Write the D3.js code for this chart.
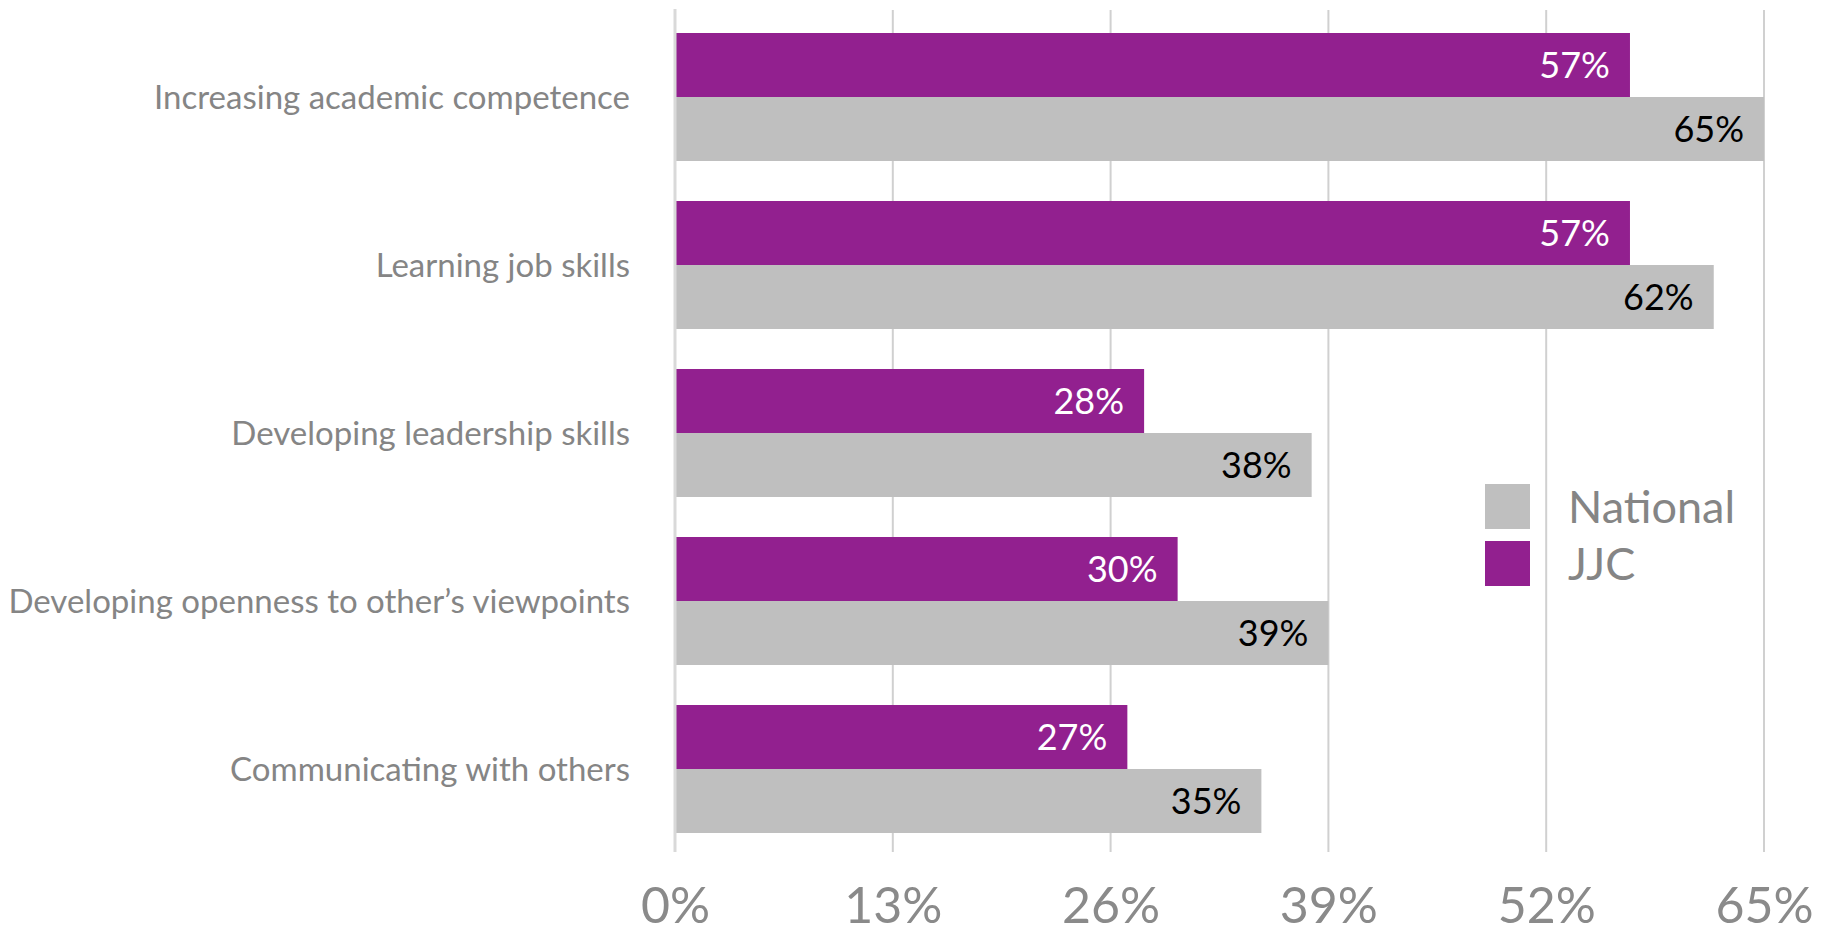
<!DOCTYPE html>
<html>
<head>
<meta charset="utf-8">
<script src="https://cdn.jsdelivr.net/npm/d3@7"></script>
<style>
  html, body { margin: 0; padding: 0; background: #ffffff; }
  svg { display: block; }
  text { font-family: Lato, "Open Sans", sans-serif; }
</style>
</head>
<body>
<svg id="chart" width="1824" height="935"></svg>
<script>
// ---- data ----
const categories = [
  "Increasing academic competence",
  "Learning job skills",
  "Developing leadership skills",
  "Developing openness to other\u2019s viewpoints",
  "Communicating with others"
];
const seriesNames = ["JJC", "National"];
const jjcValues = [57, 57, 28, 30, 27];
const nationalValues = [65, 62, 38, 39, 35];
const tickValues = [0, 13, 26, 39, 52, 65];
const legendOrder = ["National", "JJC"];

// ---- styles ----
const colors = { "JJC": "#92208f", "National": "#bfbfbf" };
const labelColors = { "JJC": "#ffffff", "National": "#000000" };
const greyText = "#858585";

const svg = d3.select("#chart");
const margin = { left: 675, right: 60, top: 13, bottom: 82 };

const x = d3.scaleLinear().domain([0, 65]).range([margin.left, 1764]);
const y = d3.scaleBand().domain(categories)
  .range([margin.top, 853])
  .paddingInner(40 / 168).paddingOuter(20 / 168);
const ySub = d3.scaleBand().domain(seriesNames).range([0, y.bandwidth()]);

// gridlines
const grid = svg.append("g");
grid.selectAll("line").data(tickValues.filter(d => d > 0)).enter().append("line")
  .attr("x1", d => x(d)).attr("x2", d => x(d))
  .attr("y1", 10).attr("y2", 852)
  .attr("stroke", "#d0d0d0").attr("stroke-width", 2);

// bars
const rows = categories.map((c, i) => ({ cat: c, JJC: jjcValues[i], National: nationalValues[i] }));
const groups = svg.append("g").selectAll("g").data(rows).enter().append("g")
  .attr("transform", d => `translate(0,${y(d.cat)})`);

groups.selectAll("rect").data(d => seriesNames.map(s => ({ s, v: d[s] }))).enter().append("rect")
  .attr("x", x(0))
  .attr("y", d => ySub(d.s))
  .attr("width", d => x(d.v) - x(0))
  .attr("height", ySub.bandwidth())
  .attr("fill", d => colors[d.s]);

groups.selectAll("text.val").data(d => seriesNames.map(s => ({ s, v: d[s] }))).enter().append("text")
  .attr("class", "val")
  .attr("x", d => x(d.v) - 20)
  .attr("y", d => ySub(d.s) + ySub.bandwidth() / 2 + 13)
  .attr("text-anchor", "end")
  .attr("font-size", 36)
  .attr("fill", d => labelColors[d.s])
  .text(d => d.v + "%");

// axis line (zero)
svg.append("line")
  .attr("x1", x(0)).attr("x2", x(0)).attr("y1", 9).attr("y2", 852)
  .attr("stroke", "#d9d9d9").attr("stroke-width", 3);

// category labels
svg.append("g").selectAll("text").data(categories).enter().append("text")
  .attr("x", 630)
  .attr("y", d => y(d) + y.bandwidth() / 2 + 12)
  .attr("text-anchor", "end")
  .attr("font-size", 33)
  .attr("fill", greyText)
  .text(d => d);

// x axis tick labels
const xAxis = d3.axisBottom(x).tickValues(tickValues).tickFormat(d => d + "%").tickSize(0).tickPadding(0);
const axG = svg.append("g").attr("transform", "translate(0,923)").call(xAxis);
axG.select(".domain").remove();
axG.selectAll("text")
  .attr("dy", null).attr("y", 0)
  .attr("font-size", 50)
  .attr("font-family", "Lato, sans-serif")
  .attr("fill", "#8a8a8a");

// legend
const legend = svg.append("g").selectAll("g").data(legendOrder).enter().append("g")
  .attr("transform", (d, i) => `translate(1485,${484 + i * 57})`);
legend.append("rect").attr("width", 45).attr("height", 45).attr("fill", d => colors[d]);
legend.append("text").attr("x", 83).attr("y", 39)
  .attr("font-size", 45).attr("fill", greyText).text(d => d);
</script>
</body>
</html>
